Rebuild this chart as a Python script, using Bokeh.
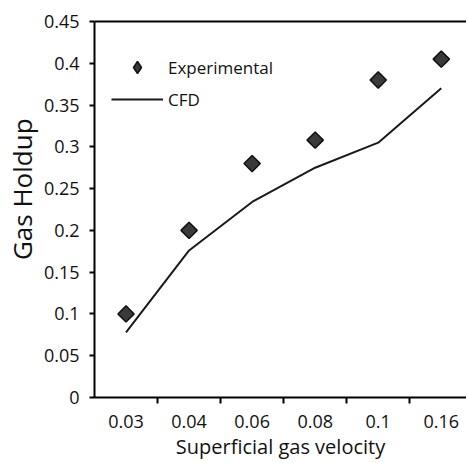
from bokeh.plotting import figure
from bokeh.models import FixedTicker, LinearAxis, Range1d, Legend, LegendItem
from bokeh.embed import file_html
from bokeh.resources import INLINE
import math

velocity_labels = ["0.03", "0.04", "0.06", "0.08", "0.1", "0.16"]
experimental = [0.10, 0.20, 0.28, 0.308, 0.38, 0.405]
cfd = [0.078, 0.176, 0.234, 0.275, 0.305, 0.37]
y_ticks = [0, 0.05, 0.1, 0.15, 0.2, 0.25, 0.3, 0.35, 0.4, 0.45]
y_tick_labels = ["0", "0.05", "0.1", "0.15", "0.2", "0.25", "0.3", "0.35", "0.4", "0.45"]

xpos = [i + 0.5 for i in range(len(velocity_labels))]
FONT = "Open Sans"

p = figure(width=466, height=462, output_backend="svg", toolbar_location=None,
           x_range=Range1d(0, 5.9), y_range=Range1d(0, 0.45),
           min_border_left=93, min_border_top=21, min_border_bottom=65, min_border_right=0)
p.outline_line_color = None
p.xgrid.visible = False
p.ygrid.visible = False
p.background_fill_color = "white"

r_line = p.line(xpos, cfd, line_color="#1a1a1a", line_width=2)
# legend proxy, hidden beneath the rotated squares
r_leg = p.scatter(xpos, experimental, marker="diamond", size=9, fill_color="#3a3a3a",
                  line_color="#111111", line_width=1.5)
r_pts = p.scatter(xpos, experimental, marker="square", size=11.5, angle=math.pi / 4,
                  fill_color="#3a3a3a", line_color="#111111", line_width=1.5)

# x axis
xa = p.xaxis[0]
xa.ticker = FixedTicker(ticks=xpos, minor_ticks=[1, 2, 3, 4, 5])
xa.major_label_overrides = {x: l for x, l in zip(xpos, velocity_labels)}
xa.major_tick_line_color = None
xa.major_tick_out = 0
xa.major_tick_in = 0
xa.minor_tick_out = 6
xa.minor_tick_in = 0
xa.minor_tick_line_color = "black"
xa.minor_tick_line_width = 2
xa.axis_line_width = 2
xa.axis_line_color = "black"
xa.major_label_standoff = 11
xa.major_label_text_font = FONT
xa.major_label_text_font_size = "18px"
xa.major_label_text_color = "#111111"
xa.axis_label = "Superficial gas velocity"
xa.axis_label_text_font = FONT
xa.axis_label_text_font_size = "20px"
xa.axis_label_text_font_style = "normal"
xa.axis_label_text_color = "#111111"
xa.axis_label_standoff = 2

# y axis
ya = p.yaxis[0]
ya.ticker = FixedTicker(ticks=y_ticks, minor_ticks=[])
ya.major_label_overrides = {t: l for t, l in zip(y_ticks, y_tick_labels)}
ya.major_tick_out = 5
ya.major_tick_in = 0
ya.major_tick_line_width = 2
ya.axis_line_width = 2
ya.axis_line_color = "black"
ya.major_label_standoff = 10
ya.major_label_text_font = FONT
ya.major_label_text_font_size = "18px"
ya.major_label_text_color = "#111111"
ya.axis_label = "\u00a0" * 6 + "Gas Holdup"
ya.axis_label_text_font = FONT
ya.axis_label_text_font_size = "26px"
ya.axis_label_text_font_style = "normal"
ya.axis_label_text_color = "#111111"
ya.axis_label_standoff = 1

# top border line
top = LinearAxis(ticker=FixedTicker(ticks=[]), axis_line_width=2, axis_line_color="black",
                 major_label_text_font_size="0px", major_tick_line_color=None,
                 minor_tick_line_color=None)
p.add_layout(top, "above")

legend = Legend(items=[LegendItem(label="Experimental", renderers=[r_leg]),
                       LegendItem(label="CFD", renderers=[r_line])],
                location=(17, 283), orientation="vertical")
legend.border_line_color = None
legend.background_fill_alpha = 0
legend.padding = 0
legend.margin = 0
legend.glyph_width = 52
legend.glyph_height = 30
legend.label_height = 30
legend.spacing = 2
legend.label_standoff = 5
legend.label_text_font = FONT
legend.label_text_font_size = "17px"
legend.label_text_color = "#111111"
p.add_layout(legend, "center")

open("out.html", "w").write(file_html(p, INLINE))
